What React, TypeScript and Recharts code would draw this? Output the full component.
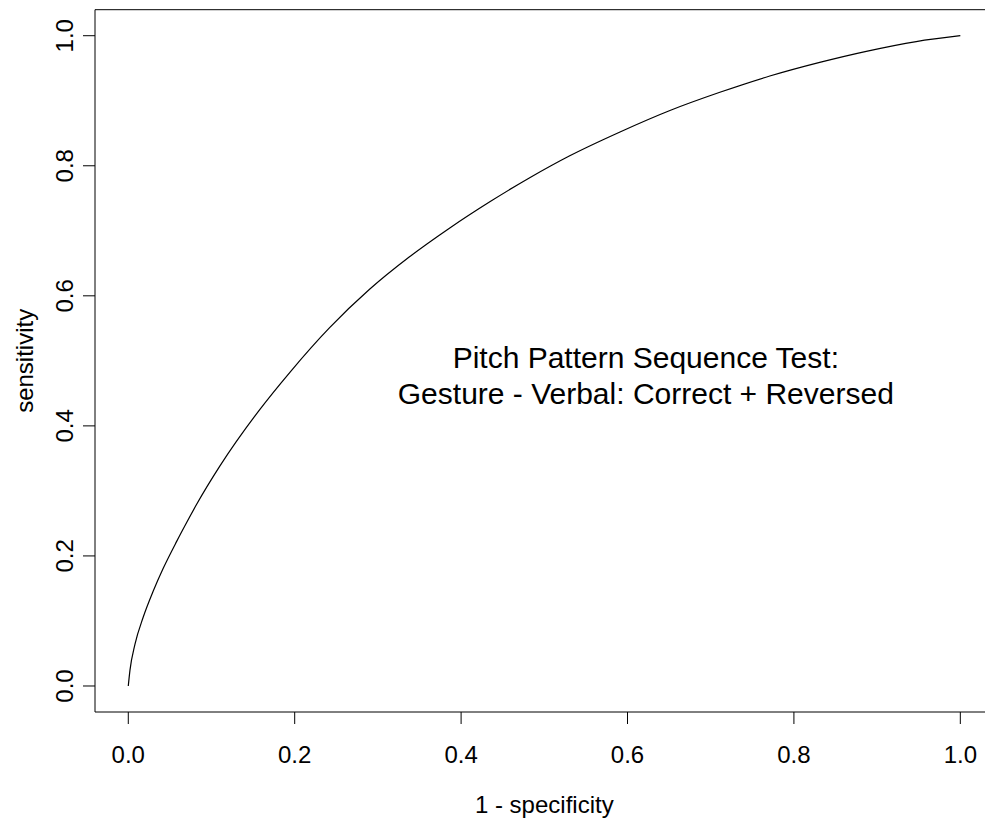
import { LineChart, Line, XAxis, YAxis, ReferenceArea, ReferenceDot, Label } from "recharts";

// false positive rate (1 - specificity)
const fpr = [
  0, 0.002, 0.008, 0.018, 0.03, 0.042, 0.058, 0.07, 0.082, 0.11, 0.158, 0.194,
  0.242, 0.29, 0.338, 0.386, 0.435, 0.483, 0.53, 0.591, 0.651, 0.711, 0.771,
  0.831, 0.887, 0.947, 1,
];
// true positive rate (sensitivity)
const tpr = [
  0, 0.024, 0.064, 0.106, 0.146, 0.181, 0.222, 0.251, 0.279, 0.338, 0.425, 0.482,
  0.551, 0.61, 0.66, 0.704, 0.745, 0.782, 0.815, 0.852, 0.885, 0.913, 0.938,
  0.959, 0.976, 0.991, 1,
];

const axisTicks = [0, 0.2, 0.4, 0.6, 0.8, 1];
const annotationLines = ["Pitch Pattern Sequence Test:", "Gesture - Verbal: Correct + Reversed"];
const annotationAt = { x: 0.622, y: 0.476 };

const data = fpr.map((x, i) => ({ fpr: x, tpr: tpr[i] }));

const FONT = "'Liberation Sans', Arial, Helvetica, sans-serif";
const lo = -0.04;
const hi = 1.04;

const YTick = ({ x, y, payload }: any) => (
  <text
    x={x}
    y={y}
    transform={`rotate(-90, ${x}, ${y})`}
    textAnchor="middle"
    fontSize={24}
    fontFamily={FONT}
    fill="#000"
  >
    {Number(payload.value).toFixed(1)}
  </text>
);

const Annotation = ({ viewBox }: any) => {
  const cx = viewBox.x + (viewBox.width || 0) / 2;
  const cy = viewBox.y + (viewBox.height || 0) / 2;
  return (
    <text textAnchor="middle" fontSize={30} fontFamily={FONT} fill="#000">
      {annotationLines.map((s, i) => (
        <tspan key={i} x={cx} y={cy + (i - 0.5) * 36 + 10}>
          {s}
        </tspan>
      ))}
    </text>
  );
};

export default function App() {
  return (
    <div
      style={{
        position: "fixed",
        left: 0,
        top: 0,
        width: 985,
        height: 823,
        overflow: "hidden",
        background: "#fff",
      }}
    >
      <LineChart
        width={1000}
        height={823}
        data={data}
        margin={{ top: 9.7, right: 6.4, bottom: 0, left: 0 }}
      >
        <XAxis
          dataKey="fpr"
          type="number"
          domain={[lo, hi]}
          ticks={axisTicks}
          allowDataOverflow
          axisLine={false}
          tickLine={{ stroke: "#000" }}
          tickSize={12}
          tickMargin={22}
          height={111}
          tick={{ fill: "#000", fontSize: 24, fontFamily: FONT }}
          tickFormatter={(v: number) => v.toFixed(1)}
        >
          <Label
            content={({ viewBox }: any) => (
              <text
                x={viewBox.x + viewBox.width / 2}
                y={813}
                textAnchor="middle"
                fontSize={24}
                fontFamily={FONT}
                fill="#000"
              >
                1 - specificity
              </text>
            )}
          />
        </XAxis>
        <YAxis
          dataKey="tpr"
          type="number"
          domain={[lo, hi]}
          ticks={axisTicks}
          allowDataOverflow
          axisLine={false}
          tickLine={{ stroke: "#000" }}
          tickSize={12}
          tickMargin={10}
          width={95}
          tick={<YTick />}
        >
          <Label
            content={({ viewBox }: any) => {
              const x = 33;
              const y = viewBox.y + viewBox.height / 2;
              return (
                <text
                  x={x}
                  y={y}
                  transform={`rotate(-90, ${x}, ${y})`}
                  textAnchor="middle"
                  fontSize={24}
                  fontFamily={FONT}
                  fill="#000"
                >
                  sensitivity
                </text>
              );
            }}
          />
        </YAxis>
        <ReferenceArea x1={lo} x2={hi} y1={lo} y2={hi} fill="none" stroke="#000" strokeWidth={1} fillOpacity={0} />
        <Line
          type="monotone"
          dataKey="tpr"
          stroke="#000"
          strokeWidth={1.2}
          dot={false}
          activeDot={false}
          isAnimationActive={false}
        />
        <ReferenceDot x={annotationAt.x} y={annotationAt.y} r={0} fill="none" stroke="none">
          <Label content={<Annotation />} />
        </ReferenceDot>
      </LineChart>
    </div>
  );
}
